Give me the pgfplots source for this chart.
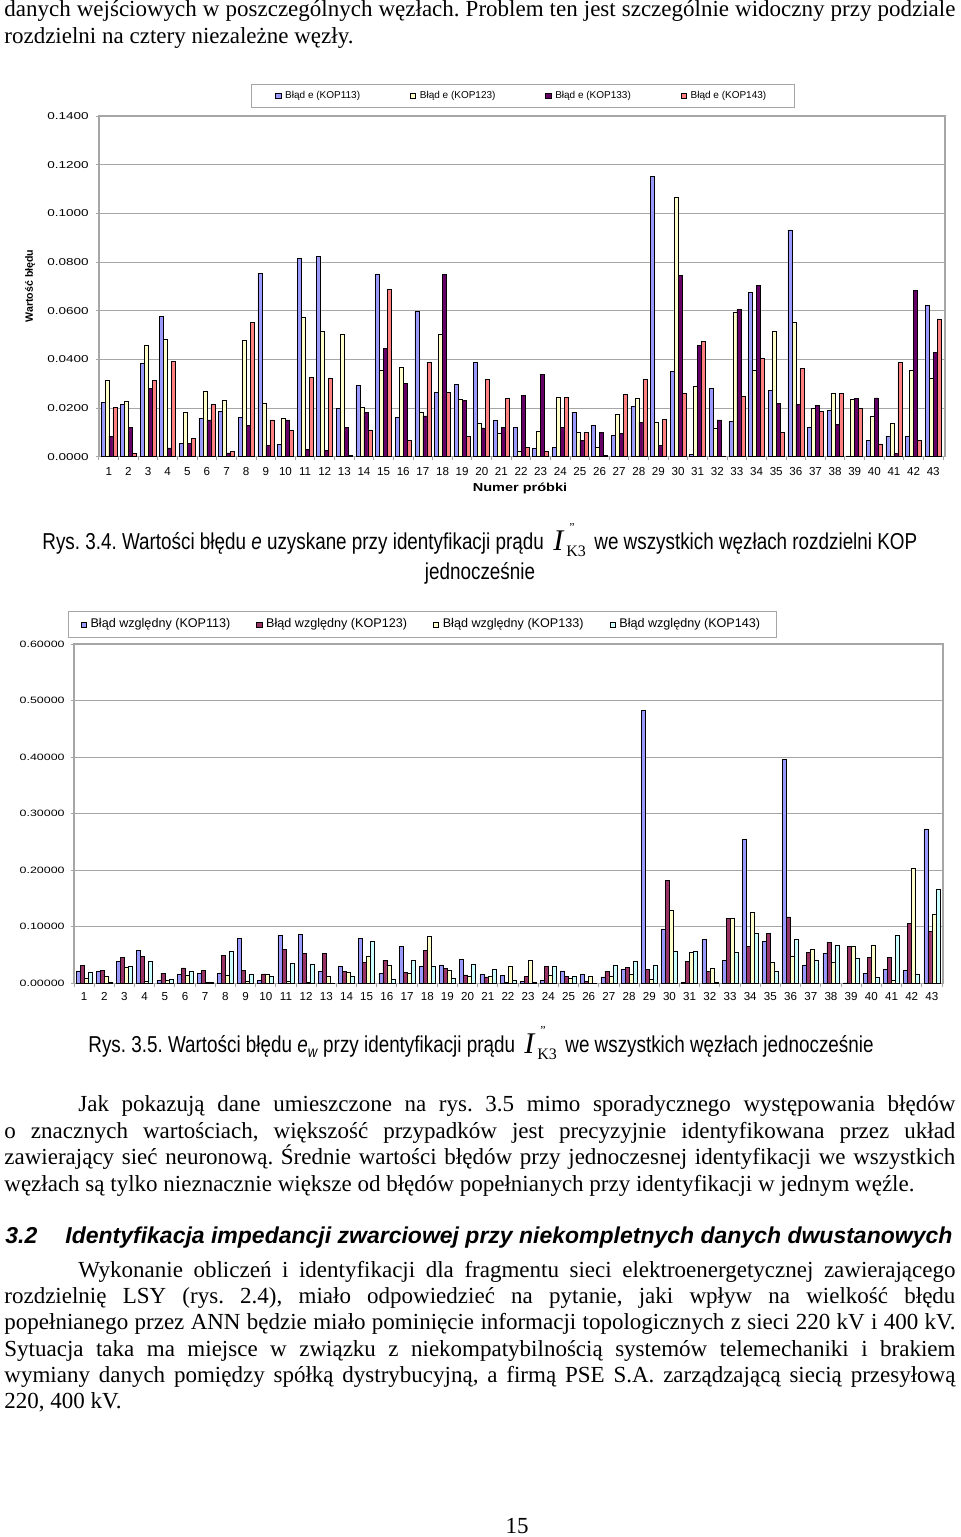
\documentclass[border=0pt]{standalone}
\usepackage{fontspec}
\usepackage{pgfplots}
\pgfplotsset{compat=1.18}
\usepackage{pgfplotstable}
\setmainfont{Liberation Serif}
\newfontfamily\sans{Liberation Sans}
\newfontfamily\ytickfont[FakeStretch=1.35]{Liberation Sans}
\newfontfamily\chartfont[FakeStretch=1.25]{Liberation Sans}
\newfontfamily\capfont[FakeStretch=0.82]{Liberation Sans}
\definecolor{cblue}{HTML}{9999FF}
\definecolor{cyel}{HTML}{FFFFCC}
\definecolor{cpur}{HTML}{660066}
\definecolor{cpink}{HTML}{FF8080}
\definecolor{cmar}{HTML}{993366}
\definecolor{ccyan}{HTML}{CCFFFF}
\definecolor{gridgray}{HTML}{A6A6A6}
\newcommand\bodyf{\fontsize{11.5}{13}\selectfont}
\newcommand\capf{\capfont\fontsize{11.5}{13}\selectfont}
\frenchspacing

\pgfplotstableread{
x a b c d
1 0.0222 0.0315 0.0085 0.0203
2 0.0214 0.0227 0.0120 0.0014
3 0.0384 0.0458 0.0280 0.0312
4 0.0578 0.0482 0.0036 0.0392
5 0.0055 0.0181 0.0055 0.0074
6 0.0159 0.0268 0.0151 0.0214
7 0.0185 0.0230 0.0016 0.0022
8 0.0162 0.0477 0.0130 0.0553
9 0.0753 0.0219 0.0047 0.0151
10 0.0051 0.0156 0.0151 0.0107
11 0.0814 0.0571 0.0030 0.0326
12 0.0822 0.0514 0.0025 0.0322
13 0.0199 0.0505 0.0120 0.0007
14 0.0292 0.0203 0.0181 0.0110
15 0.0751 0.0356 0.0445 0.0688
16 0.0162 0.0367 0.0301 0.0068
17 0.0597 0.0182 0.0168 0.0389
18 0.0263 0.0504 0.0749 0.0264
19 0.0296 0.0236 0.0232 0.0082
20 0.0386 0.0136 0.0118 0.0319
21 0.0148 0.0096 0.0120 0.0238
22 0.0119 0.0022 0.0251 0.0038
23 0.0034 0.0105 0.0338 0.0022
24 0.0038 0.0244 0.0120 0.0244
25 0.0182 0.0099 0.0068 0.0101
26 0.0130 0.0038 0.0101 0.0005
27 0.0089 0.0174 0.0096 0.0256
28 0.0207 0.0242 0.0142 0.0319
29 0.1151 0.0141 0.0045 0.0152
30 0.0352 0.1067 0.0745 0.0260
31 0.0008 0.0290 0.0458 0.0473
32 0.0281 0.0115 0.0151 0.0003
33 0.0145 0.0595 0.0604 0.0247
34 0.0675 0.0355 0.0705 0.0405
35 0.0274 0.0514 0.0219 0.0099
36 0.0932 0.0551 0.0215 0.0362
37 0.0119 0.0199 0.0212 0.0185
38 0.0189 0.0260 0.0133 0.0260
39 0.0003 0.0237 0.0241 0.0199
40 0.0066 0.0168 0.0242 0.0053
41 0.0085 0.0137 0.0014 0.0388
42 0.0082 0.0355 0.0684 0.0068
43 0.0623 0.0321 0.0427 0.0566
}\dataA

\pgfplotstableread{
x a b c d
1 0.0218 0.0312 0.0088 0.0200
2 0.0212 0.0224 0.0124 0.0010
3 0.0382 0.0453 0.0282 0.0306
4 0.0576 0.0476 0.0040 0.0388
5 0.0053 0.0182 0.0053 0.0070
6 0.0159 0.0271 0.0147 0.0218
7 0.0182 0.0229 0.0018 0.0018
8 0.0171 0.0488 0.0141 0.0571
9 0.0794 0.0229 0.0040 0.0159
10 0.0053 0.0165 0.0159 0.0118
11 0.0847 0.0606 0.0030 0.0347
12 0.0859 0.0535 0.0018 0.0335
13 0.0206 0.0535 0.0129 0.0006
14 0.0306 0.0212 0.0188 0.0118
15 0.0800 0.0376 0.0476 0.0735
16 0.0182 0.0412 0.0312 0.0070
17 0.0647 0.0200 0.0176 0.0406
18 0.0306 0.0576 0.0829 0.0294
19 0.0324 0.0259 0.0235 0.0088
20 0.0424 0.0147 0.0129 0.0335
21 0.0159 0.0112 0.0129 0.0247
22 0.0141 0.0018 0.0300 0.0047
23 0.0040 0.0129 0.0406 0.0018
24 0.0047 0.0306 0.0147 0.0306
25 0.0218 0.0124 0.0082 0.0124
26 0.0153 0.0035 0.0124 0.0002
27 0.0112 0.0212 0.0129 0.0312
28 0.0247 0.0288 0.0165 0.0382
29 0.4830 0.0247 0.0065 0.0324
30 0.0959 0.1824 0.1294 0.0565
31 0.0018 0.0382 0.0547 0.0565
32 0.0771 0.0206 0.0265 0.0010
33 0.0400 0.1147 0.1147 0.0541
34 0.2541 0.0653 0.1259 0.0882
35 0.0741 0.0882 0.0371 0.0218
36 0.3953 0.1176 0.0471 0.0782
37 0.0324 0.0553 0.0600 0.0406
38 0.0529 0.0724 0.0371 0.0671
39 0.0006 0.0659 0.0659 0.0435
40 0.0182 0.0465 0.0671 0.0112
41 0.0247 0.0459 0.0047 0.0841
42 0.0229 0.1065 0.2029 0.0153
43 0.2729 0.0918 0.1212 0.1665
}\dataB

\pgfplotsset{
  docbars/.style={
    scale only axis, anchor=south west,
    ybar=0pt, bar width=2pt,
    xtick={1,...,43},
    minor xtick={0.5,1.5,...,43.5},
    tick align=outside, tick pos=left,
    major tick length=1.5pt, minor tick length=1.6pt,
    major x tick style={draw=none},
    tick style={draw=gridgray, line width=0.5pt},
    ymajorgrids, grid style={draw=gridgray, line width=0.5pt},
    axis line style={draw=gridgray, line width=0.6pt},
    scaled y ticks=false,
    xticklabel style={font=\sans\fontsize{5.8}{6}\selectfont, inner sep=0pt, yshift=-3.5pt,
      /pgf/number format/assume math mode=true},
    enlargelimits=false,
    every axis plot/.append style={draw=black, line width=0.3pt},
    legend image code/.code={\draw[#1, draw=black, line width=0.3pt] (0pt,-1.3pt) rectangle (2.6pt,1.3pt);},
    legend columns=4,
  }
}

\begin{document}
\begin{tikzpicture}[T/.style={anchor=base west, inner sep=0pt}]
\fill[white] (0,0) rectangle (480pt,-768.5pt);
\path[use as bounding box] (0,0) rectangle (480pt,-768.5pt);

% top text
\node[T] at (2pt,-8.4pt) {\bodyf\makebox[475.5pt][s]{danych wejściowych w poszczególnych węzłach. Problem ten jest szczególnie widoczny przy podziale}};
\node[T] at (2pt,-21.7pt) {\bodyf rozdzielni na cztery niezależne węzły.};

% chart 1
\begin{axis}[docbars,
  at={(49.5pt,-228.35pt)}, width=423pt, height=170.35pt,
  xmin=0.5, xmax=43.6, ymin=0, ymax=0.14,
  ytick={0,0.02,0.04,0.06,0.08,0.1,0.12,0.14},
  yticklabel style={font=\ytickfont\fontsize{5}{6}\selectfont, inner sep=0pt, xshift=-3.5pt,
    /pgf/number format/fixed, /pgf/number format/fixed zerofill, /pgf/number format/precision=4,
    /pgf/number format/assume math mode=true},
  legend style={at={(0.501,1.0587)}, anchor=center, draw=gridgray, line width=0.5pt,
    font=\sans\fontsize{5}{6}\selectfont, inner xsep=12pt, inner ysep=1.2pt,
    /tikz/every even column/.append style={column sep=23pt}},
]
\addplot[fill=cblue] table[x=x,y=a]{\dataA};
\addplot[fill=cyel] table[x=x,y=b]{\dataA};
\addplot[fill=cpur] table[x=x,y=c]{\dataA};
\addplot[fill=cpink] table[x=x,y=d]{\dataA};
\legend{Błąd e (KOP113),Błąd e (KOP123),Błąd e (KOP133),Błąd e (KOP143)}
\end{axis}
\node[rotate=90, inner sep=0pt] at (15pt,-143pt) {\sans\bfseries\fontsize{5.3}{6}\selectfont Wartość błędu};
\node[inner sep=0pt] at (260pt,-244pt) {\chartfont\bfseries\fontsize{5.8}{6}\selectfont Numer próbki};

% caption 1
\node[T] at (21pt,-274.5pt) {\capf Rys. 3.4. Wartości błędu \textit{e} uzyskane przy identyfikacji prądu};
\node[T] at (276.5pt,-275pt) {\fontsize{15}{15}\selectfont\itshape I};
\node[T] at (284.5pt,-265.5pt) {\fontsize{6}{6}\selectfont "};
\node[T] at (283pt,-278pt) {\fontsize{8}{8}\selectfont K3};
\node[T] at (297pt,-274.5pt) {\capf we wszystkich węzłach rozdzielni KOP};
\node[anchor=base, inner sep=0pt] at (240pt,-289.5pt) {\capf jednocześnie};

% chart 2
\begin{axis}[docbars,
  at={(37pt,-491.65pt)}, width=434.5pt, height=169.65pt,
  xmin=0.5, xmax=43.55, ymin=0, ymax=0.6,
  ytick={0,0.1,0.2,0.3,0.4,0.5,0.6},
  yticklabel style={font=\ytickfont\fontsize{4.6}{6}\selectfont, inner sep=0pt, xshift=-3pt,
    /pgf/number format/fixed, /pgf/number format/fixed zerofill, /pgf/number format/precision=5,
    /pgf/number format/assume math mode=true},
  xticklabel style={yshift=0.5pt},
  legend style={at={(0.401,1.057)}, anchor=center, draw=gridgray, line width=0.5pt,
    font=\sans\fontsize{6.3}{7}\selectfont, inner xsep=6pt, inner ysep=1.4pt,
    /tikz/every even column/.append style={column sep=11pt}},
]
\addplot[fill=cblue] table[x=x,y=a]{\dataB};
\addplot[fill=cmar] table[x=x,y=b]{\dataB};
\addplot[fill=cyel] table[x=x,y=c]{\dataB};
\addplot[fill=ccyan] table[x=x,y=d]{\dataB};
\legend{Błąd względny (KOP113),Błąd względny (KOP123),Błąd względny (KOP133),Błąd względny (KOP143)}
\end{axis}

% caption 2
\node[T] at (44pt,-526pt) {\capf Rys. 3.5. Wartości błędu \textit{e}\raisebox{-0.25em}{\fontsize{8}{8}\selectfont\textit{w}} przy identyfikacji prądu};
\node[T] at (262pt,-526.5pt) {\fontsize{15}{15}\selectfont\itshape I};
\node[T] at (270pt,-517pt) {\fontsize{6}{6}\selectfont "};
\node[T] at (268.5pt,-529.5pt) {\fontsize{8}{8}\selectfont K3};
\node[T] at (282.5pt,-526pt) {\capf we wszystkich węzłach jednocześnie};

% paragraph 2
\node[T] at (39pt,-555.5pt) {\bodyf\makebox[438.5pt][s]{Jak pokazują dane umieszczone na rys. 3.5 mimo sporadycznego występowania błędów}};
\node[T] at (2pt,-569pt) {\bodyf\makebox[475.5pt][s]{o znacznych wartościach, większość przypadków jest precyzyjnie identyfikowana przez układ}};
\node[T] at (2pt,-582pt) {\bodyf\makebox[475.5pt][s]{zawierający sieć neuronową. Średnie wartości błędów przy jednoczesnej identyfikacji we wszystkich}};
\node[T] at (2pt,-595.5pt) {\bodyf węzłach są tylko nieznacznie większe od błędów popełnianych przy identyfikacji w jednym węźle.};

% heading
\node[T] at (2.5pt,-621.5pt) {\sans\bfseries\itshape\fontsize{11.5}{13}\selectfont 3.2};
\node[T] at (32.5pt,-621.5pt) {\sans\bfseries\itshape\fontsize{11.5}{13}\selectfont Identyfikacja impedancji zwarciowej przy niekompletnych danych dwustanowych};

% paragraph 3
\node[T] at (39pt,-638.5pt) {\bodyf\makebox[438.5pt][s]{Wykonanie obliczeń i identyfikacji dla fragmentu sieci elektroenergetycznej zawierającego}};
\node[T] at (2pt,-651.5pt) {\bodyf\makebox[475.5pt][s]{rozdzielnię LSY (rys. 2.4), miało odpowiedzieć na pytanie, jaki wpływ na wielkość błędu}};
\node[T] at (2pt,-664.5pt) {\bodyf\makebox[475.5pt][s]{popełnianego przez ANN będzie miało pominięcie informacji topologicznych z sieci 220 kV i 400 kV.}};
\node[T] at (2pt,-678pt) {\bodyf\makebox[475.5pt][s]{Sytuacja taka ma miejsce w związku z niekompatybilnością systemów telemechaniki i brakiem}};
\node[T] at (2pt,-691pt) {\bodyf\makebox[475.5pt][s]{wymiany danych pomiędzy spółką dystrybucyjną, a firmą PSE S.A. zarządzającą siecią przesyłową}};
\node[T] at (2pt,-704pt) {\bodyf 220, 400 kV.};

% page number
\node[anchor=base, inner sep=0pt] at (258.5pt,-766.5pt) {\bodyf 15};
\end{tikzpicture}
\end{document}
